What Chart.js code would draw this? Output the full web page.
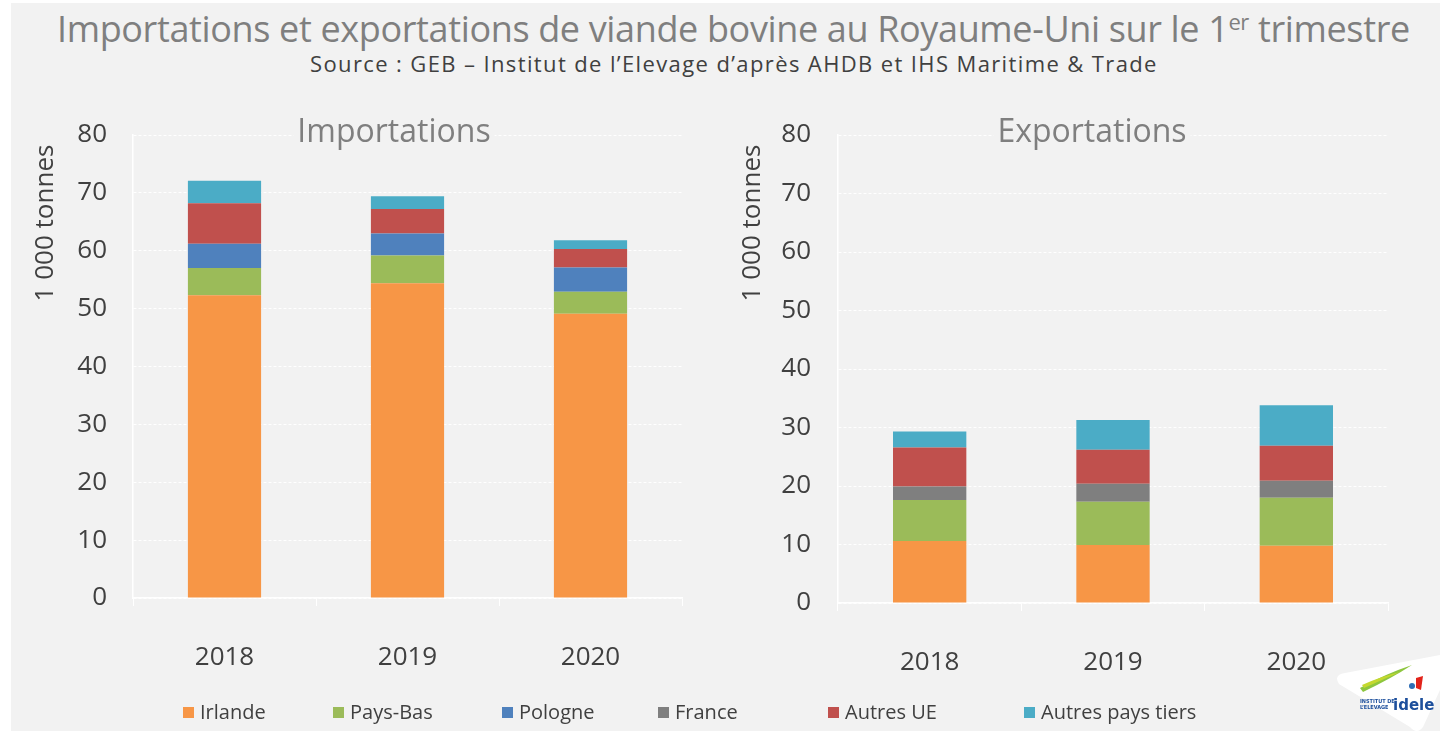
<!DOCTYPE html>
<html lang="fr">
<head>
<meta charset="utf-8">
<title>Viande bovine au Royaume-Uni</title>
<script src="https://cdn.jsdelivr.net/npm/chart.js@4.4.1/dist/chart.umd.min.js"></script>
<style>
  html, body { margin: 0; padding: 0; background: #ffffff; }
  body { width: 1440px; height: 731px; position: relative; overflow: hidden; font-family: 'Open Sans', sans-serif; }
  #panel { position: absolute; left: 11px; top: 3px; right: 0; bottom: 0; background: #f2f2f2; }
  .headline { position: absolute; white-space: nowrap; }
  #title { left: 57px; top: 11px; font-size: 36px; line-height: 36px; color: #7f7f7f; }
  #title sup { font-size: 22px; vertical-align: 12px; line-height: 0; }
  #subtitle { left: 310px; top: 52px; font-size: 22px; line-height: 22px; color: #404040; }
  .chart-box { position: absolute; top: 90px; width: 720px; height: 610px; }
  #importBox { left: 0; }
  #exportBox { left: 720px; }
  #legend { position: absolute; left: 0; top: 700px; width: 1440px; height: 24px; }
  .leg-item { position: absolute; top: 0; display: flex; align-items: center; font-size: 20px; line-height: 24px; color: #404040; white-space: nowrap; }
  .leg-item i { display: inline-block; width: 11px; height: 11px; margin-right: 6px; }
  #logo { position: absolute; left: 1330px; top: 648px; }
</style>
</head>
<body>
<div id="panel"></div>
<div id="title" class="headline">Importations et exportations de viande bovine au Royaume-Uni sur le 1<sup>er</sup> trimestre</div>
<div id="subtitle" class="headline">Source : GEB – Institut de l’Elevage d’après AHDB et IHS Maritime &amp; Trade</div>

<div id="importBox" class="chart-box"><canvas id="importChart" width="720" height="610"></canvas></div>
<div id="exportBox" class="chart-box"><canvas id="exportChart" width="720" height="610"></canvas></div>

<div id="legend"></div>

<svg id="logo" width="110" height="83" viewBox="0 0 110 83">
  <path d="M9 36 Q3 27 15 25 L110 7 L110 42 L93 79 Q87 87 80 79 Z" fill="#ffffff"/>
  <path d="M30 40 Q55 26 82 17 Q62 30 33 44 Z" fill="#8dc63f"/>
  <path d="M32 37 Q52 28 70 24 Q52 32 34 40 Z" fill="#c4d82e"/>
  <path d="M86 30 L93 28 L91 42 L86 40 Z" fill="#e2231a"/>
  <circle cx="82" cy="38" r="3" fill="#2d6db5"/>
  <text x="30" y="55" font-family="'DejaVu Sans Condensed', sans-serif" font-size="5.5" font-weight="bold" fill="#1d4f9c">INSTITUT DE</text>
  <text x="30" y="61" font-family="'DejaVu Sans Condensed', sans-serif" font-size="5.5" font-weight="bold" fill="#1d4f9c">L’ELEVAGE</text>
  <text x="63" y="62" font-family="'DejaVu Sans', sans-serif" font-size="15" font-weight="bold" fill="#1d4f9c">idele</text>
</svg>

<script>
// Catégories et séries (milliers de tonnes, 1er trimestre)
const years = ['2018', '2019', '2020'];
const seriesNames = ['Irlande', 'Pays-Bas', 'Pologne', 'France', 'Autres UE', 'Autres pays tiers'];
const seriesColors = ['#f79646', '#9bbb59', '#4f81bd', '#7f7f7f', '#c0504d', '#4bacc6'];

// Importations
const impIrlande = [52.3, 54.4, 49.1];
const impPaysBas = [4.7, 4.8, 3.8];
const impPologne = [4.2, 3.8, 4.2];
const impFrance = [0, 0, 0];
const impAutresUE = [7.0, 4.2, 3.2];
const impAutresTiers = [3.9, 2.2, 1.5];

// Exportations
const expIrlande = [10.6, 9.9, 9.8];
const expPaysBas = [7.0, 7.4, 8.2];
const expPologne = [0, 0, 0];
const expFrance = [2.3, 3.1, 2.9];
const expAutresUE = [6.7, 5.8, 6.0];
const expAutresTiers = [2.7, 5.1, 6.9];

// Axe des ordonnées
const yTicks = [0, 10, 20, 30, 40, 50, 60, 70, 80];
const yAxisLabel = '1 000 tonnes';

const legendLeft = [183, 333, 502, 658, 828, 1024];

Chart.defaults.font.family = "'Open Sans', sans-serif";
Chart.defaults.color = '#404040';

// titre du panneau + titre d'axe vertical dessinés à la main
const panelText = {
  id: 'panelText',
  afterDraw(chart, args, opts) {
    const ctx = chart.ctx;
    ctx.save();
    ctx.font = "32px 'Open Sans', sans-serif";
    ctx.textAlign = 'center';
    ctx.textBaseline = 'alphabetic';
    const w = ctx.measureText(opts.title).width;
    ctx.fillStyle = '#f2f2f2';
    ctx.fillRect(opts.titleX - w / 2 - 4, opts.titleY - 30, w + 8, 40);
    ctx.fillStyle = '#7f7f7f';
    ctx.fillText(opts.title, opts.titleX, opts.titleY);

    ctx.translate(opts.axisX, opts.axisY);
    ctx.rotate(-Math.PI / 2);
    ctx.font = "26px 'Open Sans', sans-serif";
    ctx.textBaseline = 'middle';
    ctx.fillStyle = '#404040';
    ctx.fillText(yAxisLabel, 0, 0);
    ctx.restore();
  }
};

function makeDatasets(values) {
  return seriesNames.map((name, i) => ({
    label: name,
    data: values[i],
    backgroundColor: seriesColors[i],
    borderWidth: 0,
    categoryPercentage: 1,
    barPercentage: 0.4
  }));
}

function stackedChart(canvasId, values, opts) {
  return new Chart(document.getElementById(canvasId), {
    type: 'bar',
    data: { labels: years, datasets: makeDatasets(values) },
    plugins: [panelText],
    options: {
      responsive: false,
      animation: false,
      layout: { padding: { top: 45, right: opts.padRight, bottom: 0, left: 0 } },
      plugins: {
        legend: { display: false },
        tooltip: { enabled: false },
        panelText: opts.text
      },
      scales: {
        x: {
          stacked: true,
          grid: { drawOnChartArea: false, drawTicks: true, tickLength: 8, color: '#ffffff', tickColor: '#ffffff' },
          border: { display: true, color: '#ffffff', width: 1.5 },
          ticks: { font: { size: 26 }, color: '#404040', padding: 36 },
          afterFit(scale) { scale.height = opts.xHeight; }
        },
        y: {
          stacked: true,
          min: 0,
          max: yTicks[yTicks.length - 1],
          afterBuildTicks(scale) { scale.ticks = yTicks.map(v => ({ value: v })); },
          grid: { drawTicks: false, color: '#ffffff', lineWidth: 1 },
          border: { display: true, color: '#ffffff', width: 1.5, dash: [3, 2] },
          ticks: { font: { size: 26 }, color: '#404040', padding: opts.tickPad },
          afterFit(scale) { scale.width = opts.yWidth; }
        }
      }
    }
  });
}

stackedChart('importChart',
  [impIrlande, impPaysBas, impPologne, impFrance, impAutresUE, impAutresTiers],
  { padRight: 38, yWidth: 133, tickPad: 26, xHeight: 102,
    text: { title: 'Importations', titleX: 394, titleY: 52, axisX: 46, axisY: 133 } });

stackedChart('exportChart',
  [expIrlande, expPaysBas, expPologne, expFrance, expAutresUE, expAutresTiers],
  { padRight: 52, yWidth: 118, tickPad: 27, xHeight: 97,
    text: { title: 'Exportations', titleX: 372, titleY: 52, axisX: 33, axisY: 133 } });

// légende commune aux deux graphiques
const legend = document.getElementById('legend');
seriesNames.forEach((name, i) => {
  const item = document.createElement('div');
  item.className = 'leg-item';
  item.style.left = legendLeft[i] + 'px';
  item.innerHTML = '<i style="background:' + seriesColors[i] + '"></i>' + name;
  legend.appendChild(item);
});

// ajuste l'approche des titres pour tenir dans leur largeur
function fitWidth(el, target) {
  const chars = el.textContent.length;
  const w = el.getBoundingClientRect().width;
  el.style.letterSpacing = ((target - w) / chars).toFixed(2) + 'px';
}
fitWidth(document.getElementById('title'), 1353);
fitWidth(document.getElementById('subtitle'), 848);
</script>
</body>
</html>
